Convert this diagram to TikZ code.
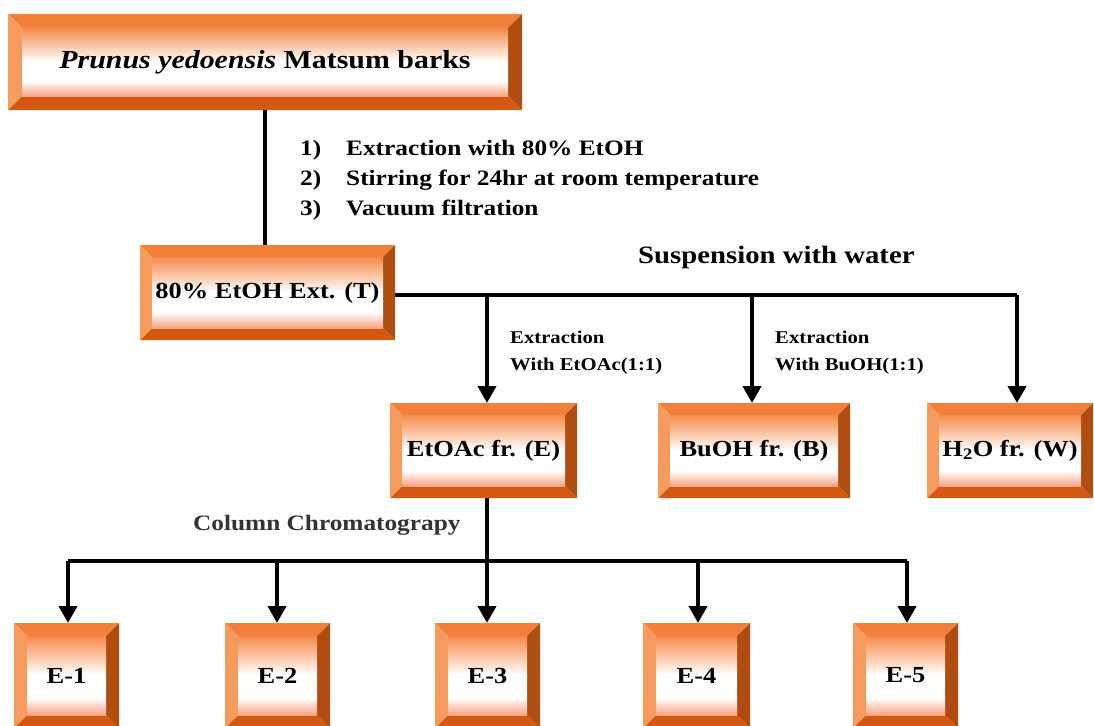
\documentclass[tikz,border=0pt]{standalone}
\usepackage{fontspec}
\setmainfont{Liberation Serif}[FakeStretch=1.15]
\usetikzlibrary{arrows.meta}
\definecolor{bvT}{HTML}{F3803A}
\definecolor{bvL}{HTML}{F59B5E}
\definecolor{bvR}{HTML}{B04D10}
\definecolor{bvB}{HTML}{D35812}
\definecolor{fcT}{HTML}{F58A4A}
\definecolor{fcB}{HTML}{F6A283}
\definecolor{lblgray}{HTML}{333333}
\pgfdeclareverticalshading{bevface}{100bp}{color(0bp)=(fcB); color(25bp)=(fcB); color(36bp)=(white); color(50bp)=(white); color(75bp)=(fcT); color(100bp)=(fcT)}
\tikzset{
  conn/.style={line width=4pt, black},
  arr/.style={conn, -{Triangle[length=17pt,width=18pt]}},
  boxtext/.style={font=\bfseries\fontsize{23}{27}\selectfont, inner sep=0pt, outer sep=0pt, text=black},
  steptext/.style={font=\bfseries\fontsize{22}{26}\selectfont, anchor=base west, inner sep=0pt},
  smalllbl/.style={font=\bfseries\fontsize{18}{22}\selectfont, anchor=base west, inner sep=0pt},
}
\newcommand\bevelbox[7]{%
  \fill[bvT] (#2,#3) -- (#4,#3) -- (#4-#6,#3+#6) -- (#2+#6,#3+#6) -- cycle;
  \fill[bvB] (#2,#5) -- (#4,#5) -- (#4-#6,#5-#6) -- (#2+#6,#5-#6) -- cycle;
  \fill[bvL] (#2,#3) -- (#2+#6,#3+#6) -- (#2+#6,#5-#6) -- (#2,#5) -- cycle;
  \fill[bvR] (#4,#3) -- (#4-#6,#3+#6) -- (#4-#6,#5-#6) -- (#4,#5) -- cycle;
  \shade[shading=bevface] (#2+#6,#3+#6) rectangle (#4-#6,#5-#6);
  \node[boxtext, minimum width={(#4-#2)*1pt}, minimum height={(#5-#3)*1pt}] (#1) at ({(#2+#4)/2},{(#3+#5)/2}) {#7};
}
\begin{document}
\begin{tikzpicture}[x=1pt,y=-1pt]
\clip (0,0) rectangle (1094,725);
\fill[white] (0,0) rectangle (1094,725);

% boxes
\bevelbox{top}{8}{14}{522}{110}{14}{\fontsize{26}{30}\selectfont\textit{Prunus yedoensis} Matsum barks}
\bevelbox{t}{140}{245}{395}{340}{12}{80\% EtOH Ext. (T)}
\bevelbox{e}{390}{403}{577}{498}{12}{EtOAc fr. (E)}
\bevelbox{b}{658}{403}{850}{498}{12}{BuOH fr. (B)}
\bevelbox{w}{927}{403}{1093}{498}{12}{H\textsubscript{2}O fr. (W)}
\bevelbox{e1}{14}{623}{119}{728}{13}{E-1}
\bevelbox{e2}{225}{623}{330}{728}{13}{E-2}
\bevelbox{e3}{435}{623}{540}{728}{13}{E-3}
\bevelbox{e4}{643}{623}{750}{728}{13}{E-4}
\bevelbox{e5}{853}{623}{958}{728}{13}{E-5}

% texts
\node[steptext] (s1) at (300,155) {\makebox[46pt][l]{1)}Extraction with 80\% EtOH};
\node[steptext] (s2) at (300,185) {\makebox[46pt][l]{2)}Stirring for 24hr at room temperature};
\node[steptext] (s3) at (300,215) {\makebox[46pt][l]{3)}Vacuum filtration};
\node[steptext, font=\bfseries\fontsize{25}{29}\selectfont] (susp) at (638,263) {Suspension with water};
\node[smalllbl] (xe1) at (510,343) {Extraction};
\node[smalllbl] (xe2) at (510,370) {With EtOAc(1:1)};
\node[smalllbl] (xb1) at (775,343) {Extraction};
\node[smalllbl] (xb2) at (775,370) {With BuOH(1:1)};
\node[steptext, text=lblgray] (cc) at (193,530) {Column Chromatograpy};

% connectors
\draw[conn] (top.south -| 265,0) -- (265,0 |- t.north);
\coordinate (jw) at (1017,295);
\coordinate (je) at (487,295);
\coordinate (jb) at (752,295);
\draw[conn] (t.east |- 0,295) -- (jw);
\draw[arr] (jw) -- (jw |- w.north);
\draw[arr] (je) -- (je |- e.north);
\draw[arr] (jb) -- (jb |- b.north);

\coordinate (c0) at (487,561);
\coordinate (c1) at (68,561);
\coordinate (c2) at (277,561);
\coordinate (c4) at (698,561);
\coordinate (c5) at (907,561);
\draw[conn] (c0 |- e.south) -- (c0);
\draw[conn] (c1) -- (c5);
\draw[arr] (c1) -- (c1 |- e1.north);
\draw[arr] (c2) -- (c2 |- e2.north);
\draw[arr] (c0) -- (c0 |- e3.north);
\draw[arr] (c4) -- (c4 |- e4.north);
\draw[arr] (c5) -- (c5 |- e5.north);
\end{tikzpicture}
\end{document}
